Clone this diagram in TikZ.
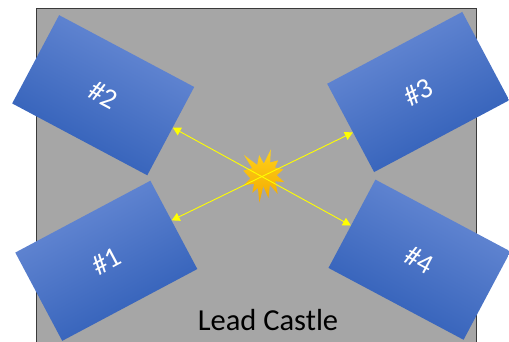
\documentclass[tikz,border=0pt]{standalone}
\usepackage{fontspec}
\setmainfont{Carlito}
\usetikzlibrary{arrows.meta,calc}

\definecolor{castlegray}{HTML}{A6A6A6}
\definecolor{castleedge}{HTML}{3A3A3A}
\definecolor{detlight}{HTML}{6A8CD6}
\definecolor{detmid}{HTML}{4174D2}
\definecolor{detdark}{HTML}{2D5CB6}
\definecolor{flashtop}{HTML}{FFD11A}
\definecolor{flashbot}{HTML}{F2A900}
\definecolor{beam}{HTML}{FFFF00}

\tikzset{
  detector/.style={rectangle, minimum width=153pt, minimum height=100pt,
    inner sep=0pt, rotate=#1,
    top color=detlight, middle color=detmid, bottom color=detdark,
    shading angle=#1,
    text=white, font=\fontsize{28.5}{28.5}\selectfont},
  beamline/.style={draw=beam, line width=0.9pt,
    {Triangle[length=8pt,width=8.5pt]}-{Triangle[length=8pt,width=8.5pt]}},
}

\begin{document}
\begin{tikzpicture}[x=1pt, y=-1pt]
  \useasboundingbox (0,0) rectangle (509,341);

  % lead castle body
  \path[fill=castlegray, draw=castleedge, line width=1pt] (36,8) rectangle (476,360);

  % detectors
  \node[detector=28]  (r1) at (106.3,260.8) {\#1};
  \node[detector=-28] (r2) at (103.2,95.2)  {\#2};
  \node[detector=28]  (r3) at (418.2,92.0)  {\#3};
  \node[detector=-28] (r4) at (419.5,259.7) {\#4};

  % source (explosion burst)
  \begin{scope}[shift={(243.3,149.3)}, xscale=41/216, yscale=53.4/216]
    \path[top color=flashtop, bottom color=flashbot]
      (108,58) -- (145.22,0) -- (141.55,53.25) -- (183.80,44.57) -- (167.02,73.15)
      -- (210.97,81.37) -- (176.07,104.75) -- (216,132.90) -- (168.37,129.42)
      -- (181.45,180.95) -- (140.20,144.57) -- (132.47,197.37) -- (105.32,149.35)
      -- (84.85,216) -- (77.15,156.27) -- (47.62,176.17) -- (56.67,139.37)
      -- (1.35,145.87) -- (37.22,117.75) -- (0,86.15) -- (46.27,76.17)
      -- (3.70,22.95) -- (73.12,63.20) -- (83.52,22.95) -- cycle;
  \end{scope}

  % beam end points on the detector faces
  \coordinate (a1) at ($(r1.east)!0.1!(r1.north east)$);
  \coordinate (a2) at ($(r2.east)!0.08!(r2.north east)$);
  \coordinate (a3) at ($(r3.west)!0.1!(r3.south west)$);
  \coordinate (a4) at ($(r4.west)!0.04!(r4.south west)$);

  \draw[beamline] (a2) -- (a4);
  \draw[beamline] (a1) -- (a3);

  \node[anchor=base, font=\fontsize{30.5}{30.5}\selectfont] (label) at (268,330) {Lead Castle};
\end{tikzpicture}
\end{document}
